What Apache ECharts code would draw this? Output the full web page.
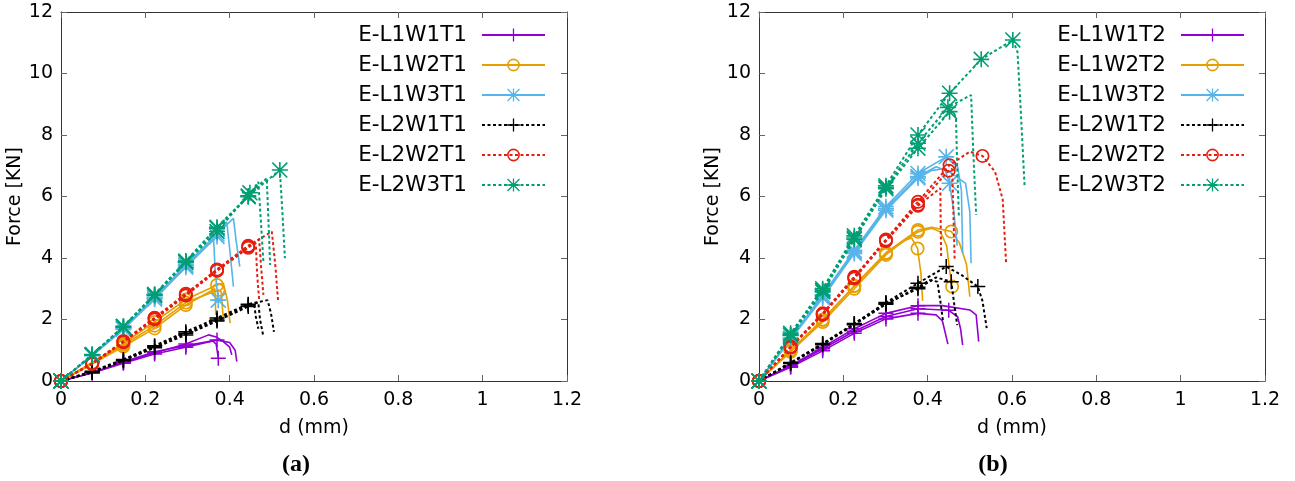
<!DOCTYPE html>
<html><head><meta charset="utf-8">
<script src="https://cdn.jsdelivr.net/npm/echarts@6/dist/echarts.min.js"></script>
<style>html,body{margin:0;padding:0;background:#fff}#c{width:1295px;height:481px}</style>
</head><body><div id="c"></div>
<script>
// ---- axes ----
const X_MIN = 0, X_MAX = 1.2, X_STEP = 0.2;
const Y_MIN = 0, Y_MAX = 12, Y_STEP = 2;
const X_NAME = 'd (mm)', Y_NAME = 'Force [KN]';
const CAPTIONS = ['(a)', '(b)'];

// ---- legend names ----
const NAMES_A = ['E-L1W1T1','E-L1W2T1','E-L1W3T1','E-L2W1T1','E-L2W2T1','E-L2W3T1'];
const NAMES_B = ['E-L1W1T2','E-L1W2T2','E-L1W3T2','E-L2W1T2','E-L2W2T2','E-L2W3T2'];

// ---- panel (a): curves [d, F] and indices of points carrying a marker ----
const A_L1W1 = [
  [[0,0],[0.074,0.27],[0.148,0.6],[0.222,0.92],[0.296,1.2],[0.35,1.5],[0.37,1.42],[0.385,1.28],[0.4,1.1],[0.405,0.85]],
  [[0,0],[0.074,0.27],[0.148,0.62],[0.222,0.95],[0.296,1.15],[0.37,1.33],[0.4,1.25],[0.413,1.0],[0.417,0.63]],
  [[0,0],[0.074,0.26],[0.148,0.58],[0.222,0.88],[0.296,1.1],[0.36,1.3],[0.368,1.2],[0.373,0.74]]
];
const A_L1W1_MK = [[0,1,2,3,4],[0,1,2,3,4,5],[0,1,2,3,4,7]];
const A_L1W2 = [
  [[0,0],[0.074,0.6],[0.148,1.22],[0.222,1.92],[0.296,2.65],[0.37,3.12],[0.385,3.18],[0.395,2.6],[0.401,1.88]],
  [[0,0],[0.074,0.55],[0.148,1.12],[0.222,1.71],[0.296,2.47],[0.365,3.0],[0.367,2.15]],
  [[0,0],[0.074,0.58],[0.148,1.17],[0.222,1.8],[0.296,2.55],[0.373,2.96],[0.38,2.9],[0.385,2.0]]
];
const A_L1W2_MK = [[0,1,2,3,4,5],[0,1,2,3,4],[0,1,2,3,4,5]];
const A_L1W3 = [
  [[0,0],[0.074,0.85],[0.148,1.72],[0.222,2.72],[0.296,3.78],[0.37,4.78],[0.409,5.29],[0.415,4.6],[0.424,3.72]],
  [[0,0],[0.074,0.83],[0.148,1.7],[0.222,2.7],[0.296,3.75],[0.37,4.7],[0.393,5.18],[0.4,4.3],[0.409,3.07]],
  [[0,0],[0.074,0.82],[0.148,1.68],[0.222,2.66],[0.296,3.7],[0.362,4.6],[0.366,3.5],[0.373,2.63]]
];
const A_L1W3_MK = [[0,1,2,3,4,5],[0,1,2,3,4,5],[0,1,2,3,4,7]];
const A_L2W1 = [
  [[0,0],[0.074,0.3],[0.148,0.68],[0.222,1.12],[0.296,1.55],[0.37,1.98],[0.444,2.47],[0.468,2.55],[0.472,2.0],[0.48,1.44]],
  [[0,0],[0.074,0.32],[0.148,0.7],[0.222,1.15],[0.296,1.6],[0.37,2.05],[0.444,2.5],[0.49,2.63],[0.498,2.2],[0.505,1.6]],
  [[0,0],[0.074,0.28],[0.148,0.66],[0.222,1.08],[0.296,1.5],[0.37,1.95],[0.444,2.42],[0.458,2.5],[0.462,2.1],[0.468,1.7]]
];
const A_L2W1_MK = [[0,1,2,3,4,5,6],[0,1,2,3,4,5,6],[0,1,2,3,4,5,6]];
const A_L2W2 = [
  [[0,0],[0.074,0.57],[0.148,1.28],[0.222,2.04],[0.296,2.8],[0.37,3.61],[0.444,4.37],[0.462,4.47],[0.465,3.5],[0.47,2.63]],
  [[0,0],[0.074,0.55],[0.148,1.26],[0.222,2.0],[0.296,2.78],[0.37,3.58],[0.444,4.33],[0.47,4.6],[0.474,3.8],[0.48,2.8]],
  [[0,0],[0.074,0.58],[0.148,1.3],[0.222,2.06],[0.296,2.84],[0.37,3.63],[0.444,4.4],[0.5,4.86],[0.508,3.8],[0.515,2.58]]
];
const A_L2W2_MK = [[0,1,2,3,4,5,6],[0,1,2,3,4,5,6],[0,1,2,3,4,5,6]];
const A_L2W3 = [
  [[0,0],[0.074,0.85],[0.148,1.77],[0.222,2.8],[0.296,3.88],[0.37,4.97],[0.444,5.99],[0.468,6.48],[0.474,5.2],[0.48,3.88]],
  [[0,0],[0.074,0.85],[0.148,1.75],[0.222,2.78],[0.296,3.85],[0.37,4.86],[0.448,6.12],[0.488,6.59],[0.492,5.2],[0.496,3.77]],
  [[0,0],[0.074,0.86],[0.148,1.78],[0.222,2.82],[0.296,3.9],[0.37,5.0],[0.444,6.02],[0.519,6.86],[0.525,5.5],[0.531,3.99]]
];
const A_L2W3_MK = [[0,1,2,3,4,5,6],[0,1,2,3,4,5,6],[0,1,2,3,4,5,6,7]];

// ---- panel (b) ----
const B_L1W1 = [
  [[0,0],[0.075,0.5],[0.151,1.1],[0.226,1.7],[0.301,2.2],[0.377,2.45],[0.435,2.45],[0.5,2.31],[0.515,2.15],[0.521,1.28]],
  [[0,0],[0.075,0.48],[0.151,1.05],[0.226,1.62],[0.301,2.1],[0.377,2.35],[0.45,2.3],[0.471,2.09],[0.478,1.7],[0.483,1.17]],
  [[0,0],[0.075,0.45],[0.151,0.98],[0.226,1.55],[0.301,2.02],[0.377,2.2],[0.42,2.15],[0.435,1.95],[0.448,1.2]]
];
const B_L1W1_MK = [[0,1,2,3,4,5],[0,1,2,3,4,5,6],[0,1,2,3,4,5]];
const B_L1W2 = [
  [[0,0],[0.075,1.0],[0.151,2.0],[0.226,3.1],[0.301,4.17],[0.377,4.91],[0.41,5.0],[0.456,4.86],[0.475,4.5],[0.492,3.8],[0.5,2.74]],
  [[0,0],[0.075,0.98],[0.151,1.98],[0.226,3.08],[0.301,4.15],[0.377,4.85],[0.41,4.97],[0.43,4.85],[0.445,4.4],[0.452,3.6],[0.458,3.07]],
  [[0,0],[0.075,0.95],[0.151,1.92],[0.226,3.0],[0.301,4.1],[0.345,4.58],[0.362,4.65],[0.376,4.31],[0.384,3.5],[0.388,2.6]]
];
const B_L1W2_MK = [[0,1,2,3,4,5,7],[0,1,2,3,4,5,10],[0,1,2,3,4,7]];
const B_L1W3 = [
  [[0,0],[0.075,1.4],[0.151,2.8],[0.226,4.25],[0.301,5.67],[0.377,6.75],[0.444,7.29],[0.471,6.97],[0.48,6.2],[0.483,4.15]],
  [[0,0],[0.075,1.38],[0.151,2.75],[0.226,4.2],[0.301,5.6],[0.377,6.65],[0.42,6.97],[0.452,6.8],[0.49,6.43],[0.5,5.5],[0.503,3.83]],
  [[0,0],[0.075,1.35],[0.151,2.7],[0.226,4.15],[0.301,5.55],[0.377,6.6],[0.41,6.85],[0.44,6.9],[0.452,6.43],[0.462,5.5],[0.47,4.4]]
];
const B_L1W3_MK = [[0,1,2,3,4,5,6],[0,1,2,3,4,5],[0,1,2,3,4,5,8]];
const B_L2W1 = [
  [[0,0],[0.075,0.6],[0.151,1.22],[0.226,1.87],[0.301,2.55],[0.377,3.18],[0.444,3.72],[0.48,3.45],[0.519,3.07],[0.53,2.6],[0.54,1.72]],
  [[0,0],[0.075,0.58],[0.151,1.2],[0.226,1.85],[0.301,2.52],[0.377,3.0],[0.42,3.37],[0.456,3.23],[0.463,2.5],[0.47,1.82]],
  [[0,0],[0.075,0.57],[0.151,1.18],[0.226,1.83],[0.301,2.5],[0.377,3.05],[0.405,3.28],[0.423,3.23],[0.43,2.6],[0.436,1.98]]
];
const B_L2W1_MK = [[0,1,2,3,4,5,6,8],[0,1,2,3,4,5,7],[0,1,2,3,4,5]];
const B_L2W2 = [
  [[0,0],[0.075,1.12],[0.151,2.2],[0.226,3.39],[0.301,4.6],[0.377,5.83],[0.452,7.02],[0.5,7.46],[0.53,7.32],[0.56,6.8],[0.578,5.9],[0.586,3.83]],
  [[0,0],[0.075,1.1],[0.151,2.18],[0.226,3.36],[0.301,4.57],[0.377,5.73],[0.45,6.84],[0.458,6.9],[0.461,5.5],[0.464,3.93]],
  [[0,0],[0.075,1.08],[0.151,2.15],[0.226,3.33],[0.301,4.55],[0.377,5.7],[0.43,6.27],[0.431,5.0],[0.432,4.04]]
];
const B_L2W2_MK = [[0,1,2,3,4,5,6,8],[0,1,2,3,4,5,6],[0,1,2,3,4,5]];
const B_L2W3 = [
  [[0,0],[0.075,1.55],[0.151,3.0],[0.226,4.72],[0.301,6.35],[0.377,8.0],[0.452,9.36],[0.527,10.46],[0.602,11.09],[0.613,10.7],[0.62,9.0],[0.63,6.3]],
  [[0,0],[0.075,1.5],[0.151,2.95],[0.226,4.65],[0.301,6.3],[0.377,7.73],[0.448,8.9],[0.503,9.3],[0.508,7.5],[0.515,5.4]],
  [[0,0],[0.075,1.48],[0.151,2.9],[0.226,4.6],[0.301,6.25],[0.377,7.57],[0.452,8.76],[0.467,8.6],[0.47,7.0],[0.474,5.34]]
];
const B_L2W3_MK = [[0,1,2,3,4,5,6,7,8],[0,1,2,3,4,5,6],[0,1,2,3,4,5,6]];

// ---- styles ----
const COLORS = ['#9400d3','#e69f00','#56b4e9','#000000','#e51e10','#009e73'];
const PLUS = 'path://M-1,-10L1,-10L1,10L-1,10Z M-10,-1L10,-1L10,1L-10,1Z';
const STAR = 'path://M-1,-10L1,-10L1,10L-1,10Z M-10,-1L10,-1L10,1L-10,1Z M-10,-8.6L-8.6,-10L10,8.6L8.6,10Z M-8.6,10L-10,8.6L8.6,-10L10,-8.6Z';
const RING = 'path://M0,-10A10,10,0,1,1,0,10A10,10,0,1,1,0,-10Z M0,-7.6A7.6,7.6,0,1,0,0,7.6A7.6,7.6,0,1,0,0,-7.6Z';
const SYMS = [PLUS, RING, STAR, PLUS, RING, STAR];
const SIZES = [15, 14, 16, 15, 14, 16];
const FONT = 'DejaVu Sans';

const GROUPS_A = [[A_L1W1,A_L1W1_MK],[A_L1W2,A_L1W2_MK],[A_L1W3,A_L1W3_MK],[A_L2W1,A_L2W1_MK],[A_L2W2,A_L2W2_MK],[A_L2W3,A_L2W3_MK]];
const GROUPS_B = [[B_L1W1,B_L1W1_MK],[B_L1W2,B_L1W2_MK],[B_L1W3,B_L1W3_MK],[B_L2W1,B_L2W1_MK],[B_L2W2,B_L2W2_MK],[B_L2W3,B_L2W3_MK]];

function buildSeries(groups, names, axisIdx) {
  const out = [];
  groups.forEach(([curves, marks], k) => {
    curves.forEach((pts, ci) => {
      out.push({
        type: 'line', name: names[k],
        xAxisIndex: axisIdx, yAxisIndex: axisIdx,
        data: pts.map((p, i) => marks[ci].includes(i) ? { value: p } : { value: p, symbol: 'none' }),
        symbol: SYMS[k], symbolSize: SIZES[k], showSymbol: true,
        lineStyle: { color: COLORS[k], width: k < 3 ? 1.6 : 2, type: k < 3 ? 'solid' : [3, 2.5] },
        itemStyle: { color: COLORS[k], borderWidth: 0 },
        emphasis: { disabled: true },
        animation: false, z: 2 + k
      });
    });
  });
  return out;
}

const grids = [
  { left: 61, top: 12, width: 506, height: 369 },
  { left: 759, top: 12, width: 506, height: 369 }
];
const axisLine = { show: true, onZero: false, lineStyle: { color: '#333', width: 1 } };
const tick = { show: true, inside: true, length: 6, lineStyle: { color: '#666', width: 1 } };
const xAxes = [], yAxes = [];
grids.forEach((g, gi) => {
  xAxes.push({
    type: 'value', gridIndex: gi, min: X_MIN, max: X_MAX, interval: X_STEP, position: 'bottom',
    axisLine, axisTick: tick, splitLine: { show: false },
    axisLabel: { fontSize: 19, fontFamily: FONT, color: '#000', margin: 10 },
    name: X_NAME, nameLocation: 'middle', nameGap: 38,
    nameTextStyle: { fontSize: 19, fontFamily: FONT, color: '#000' }
  });
  xAxes.push({
    type: 'value', gridIndex: gi, min: X_MIN, max: X_MAX, interval: X_STEP, position: 'top',
    axisLine, axisTick: tick, splitLine: { show: false }, axisLabel: { show: false }
  });
  yAxes.push({
    type: 'value', gridIndex: gi, min: Y_MIN, max: Y_MAX, interval: Y_STEP, position: 'left',
    axisLine, axisTick: tick, splitLine: { show: false },
    axisLabel: { fontSize: 19, fontFamily: FONT, color: '#000', margin: 8 },
    name: Y_NAME, nameLocation: 'middle', nameGap: 32,
    nameTextStyle: { fontSize: 19, fontFamily: FONT, color: '#000' }
  });
  yAxes.push({
    type: 'value', gridIndex: gi, min: Y_MIN, max: Y_MAX, interval: Y_STEP, position: 'right',
    axisLine, axisTick: tick, splitLine: { show: false }, axisLabel: { show: false }
  });
});

const legendBase = {
  orient: 'vertical', top: 24, align: 'right', padding: 0,
  itemWidth: 63, itemHeight: 16, itemGap: 8, selectedMode: false,
  textStyle: { fontSize: 21.5, fontFamily: FONT, color: '#000', lineHeight: 22, padding: [0, 10, 0, 0] }
};

const option = {
  backgroundColor: '#fff',
  animation: false,
  grid: grids,
  xAxis: xAxes,
  yAxis: yAxes,
  legend: [
    Object.assign({}, legendBase, { data: NAMES_A, right: 1295 - 546 }),
    Object.assign({}, legendBase, { data: NAMES_B, right: 1295 - 1245 })
  ],
  series: buildSeries(GROUPS_A, NAMES_A, 0).concat(buildSeries(GROUPS_B, NAMES_B, 2)),
  graphic: [
    { type: 'text', x: 296, y: 465, style: { text: CAPTIONS[0], font: 'bold 24px "Liberation Serif"', fill: '#000', textAlign: 'center', textVerticalAlign: 'middle', align: 'center', verticalAlign: 'middle' } },
    { type: 'text', x: 993, y: 465, style: { text: CAPTIONS[1], font: 'bold 24px "Liberation Serif"', fill: '#000', textAlign: 'center', textVerticalAlign: 'middle', align: 'center', verticalAlign: 'middle' } }
  ]
};
const chart = echarts.init(document.getElementById('c'), null, { renderer: 'canvas' });
chart.setOption(option);
</script></body></html>
